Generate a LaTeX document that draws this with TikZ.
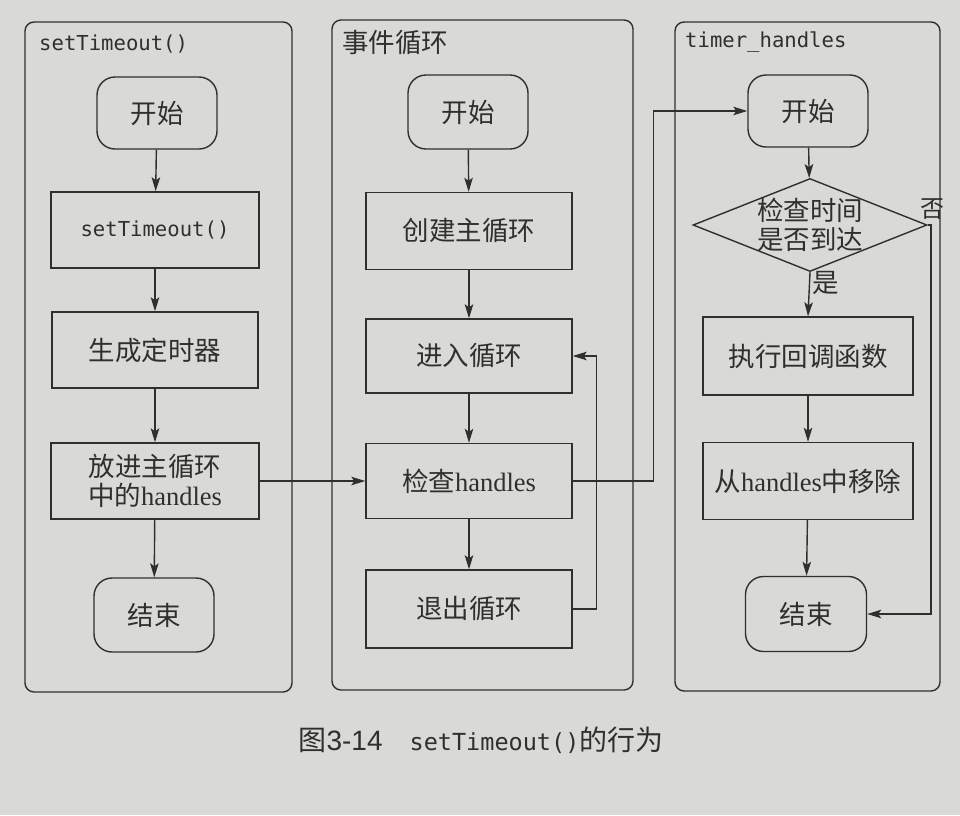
\documentclass[tikz,border=0pt]{standalone}
\usepackage{fontspec}
\setmainfont{Liberation Serif}
\setmonofont{DejaVu Sans Mono}
\setsansfont{Liberation Sans}
\newfontfamily\cjk{Noto Sans CJK SC}
\usetikzlibrary{arrows.meta,shapes.geometric}
\definecolor{paper}{HTML}{D9D9D5}
\definecolor{ink}{HTML}{2F2F2F}
\newcommand\cjkfs{\cjk\fontsize{26.5}{29}\selectfont}
\newcommand\monofs{\ttfamily\fontsize{20.6}{24}\selectfont}
\newcommand\lat[1]{{\rmfamily #1}}
\begin{document}
\begin{tikzpicture}[x=1pt,y=-1pt,
  every node/.style={text=ink},
  panel/.style={draw=ink, line width=1.4pt, rounded corners=9pt},
  proc/.style={draw=ink, line width=1.4pt, minimum width=206pt, minimum height=76pt, inner sep=0pt, font=\cjkfs, align=center},
  term/.style={draw=ink, line width=1.4pt, rounded corners=18pt, minimum width=120pt, minimum height=72pt, inner sep=0pt, font=\cjkfs},
  dec/.style={diamond, draw=ink, line width=1.4pt, shape aspect=2.5, inner sep=-4pt, minimum width=234pt, minimum height=93pt, align=center, font=\cjkfs},
  flow/.style={draw=ink, line width=1.4pt, -{Stealth[length=14pt,width=8.5pt,inset=3pt]}},
  ttl/.style={anchor=west, inner sep=0pt},
  lbl/.style={inner sep=0pt, font=\cjkfs}
]
\fill[paper] (0,0) rectangle (960,815);
\useasboundingbox (0,0) rectangle (960,815);

% panels
\draw[panel] (25,22) rectangle (292,692);
\draw[panel] (332,20) rectangle (633,690);
\draw[panel] (675,22) rectangle (940,691);
\node[ttl, font=\monofs] (p1t) at (39,44) {setTimeout()};
\node[ttl, font=\cjkfs] (p2t) at (342,43) {事件循环};
\node[ttl, font=\monofs] (p3t) at (685,42) {timer\_handles};

% panel 1
\node[term] (s1) at (157,113) {开始};
\node[proc, minimum width=208pt] (s2) at (155,230) {\monofs setTimeout()};
\node[proc] (s3) at (155,350) {生成定时器};
\node[proc, minimum width=208pt] (s4) at (155,481) {放进主循环\\中的\lat{handles}};
\node[term, minimum height=74pt] (s5) at (154,615) {结束};

% panel 2
\node[term, minimum height=74pt] (m1) at (468,112) {开始};
\node[proc, minimum height=77pt] (m2) at (469,231) {创建主循环};
\node[proc, minimum height=74pt] (m3) at (469,356) {进入循环};
\node[proc, minimum height=75pt] (m4) at (469,481) {检查\lat{handles}};
\node[proc, minimum height=78pt] (m5) at (469,609) {退出循环};

% panel 3
\node[term] (t1) at (808,111) {开始};
\node[dec] (t2) at (810,225) {检查时间\\是否到达};
\node[proc, minimum width=210pt, minimum height=78pt] (t3) at (808,356) {执行回调函数};
\node[proc, minimum width=210pt, minimum height=77pt] (t4) at (808,481) {从\lat{handles}中移除};
\node[term, minimum width=121pt, minimum height=75pt] (t5) at (806,614) {结束};
\node[lbl] (yes) at (826,283) {是};
\node[lbl, font=\cjk\fontsize{24}{26}\selectfont] (no) at (932,209) {否};
\coordinate (nobend) at (931,614);

% connectors panel 1
\draw[flow] (s1) -- (s2);
\draw[flow] (s2) -- (s3);
\draw[flow] (s3) -- (s4);
\draw[flow] (s4) -- (s5);
% panel 2
\draw[flow] (m1) -- (m2);
\draw[flow] (m2) -- (m3);
\draw[flow] (m3) -- (m4);
\draw[flow] (m4) -- (m5);
\draw[flow] (m5.east) -- ++(24,0) |- (m3.east);
% cross-panel
\draw[flow] (s4.east) -- (m4.west);
\draw[flow] (m4.east) -- ++(81,0) |- (t1.west);
% panel 3
\draw[flow] (t1) -- (t2);
\draw[flow] (t2.south) -- (t3.north);
\draw[flow] (t3) -- (t4);
\draw[flow] (t4) -- (t5);
\draw[flow] (t2.east) -| (nobend) -- (t5.east);

% caption
\node (cap) at (481,740) {{\cjk\fontsize{28}{30}\selectfont 图}{\sffamily\fontsize{28}{30}\selectfont 3-14}\hspace{27pt}{\ttfamily\fontsize{23.5}{30}\selectfont setTimeout()}{\cjk\fontsize{28}{30}\selectfont 的行为}};
\end{tikzpicture}
\end{document}
